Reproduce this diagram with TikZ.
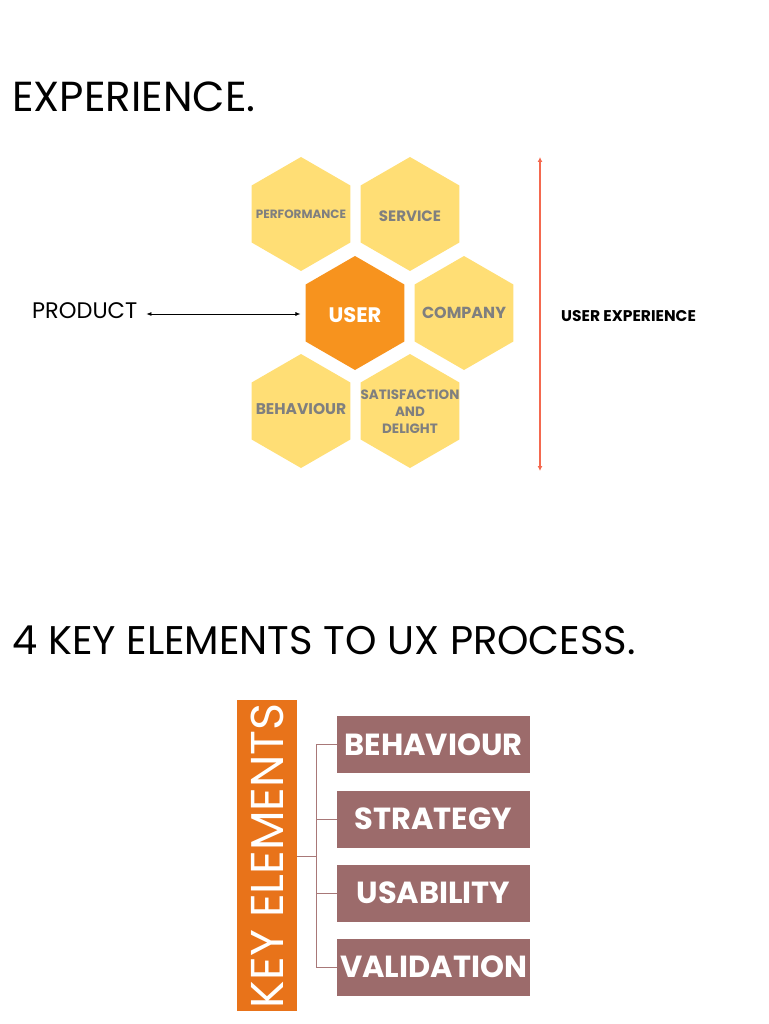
\documentclass[tikz,border=0pt]{standalone}
\usepackage{fontspec}
\setmainfont{Poppins}
\usetikzlibrary{shapes.geometric,arrows.meta}
\definecolor{hexy}{HTML}{FFDE75}
\definecolor{usero}{HTML}{F7931E}
\definecolor{lblg}{HTML}{7F7F7F}
\definecolor{redl}{HTML}{F4694F}
\definecolor{keyo}{HTML}{E8731A}
\definecolor{boxr}{HTML}{9C6B6B}
\definecolor{conn}{HTML}{A87878}
\tikzset{
  hex/.style={regular polygon, regular polygon sides=6, shape border rotate=30, minimum size=114pt, inner sep=0pt, fill=hexy},
  hexu/.style={hex, fill=usero},
  hexlbl/.style={font=\bfseries\fontsize{11}{13}\selectfont, text=lblg, align=center},
  title/.style={anchor=west, font=\fontsize{42}{46}\selectfont, inner sep=0pt},
  elbox/.style={fill=boxr, minimum width=193pt, minimum height=57pt, inner sep=0pt, text=white, font=\bfseries\fontsize{30.5}{33}\selectfont},
  cline/.style={draw=conn, line width=0.8pt},
}
\begin{document}
\begin{tikzpicture}[x=1pt,y=-1pt]
\useasboundingbox (0,0) rectangle (768,1024);
% titles
\node[title] (t1) at (12,97) {EXPERIENCE.};
\node[title, font=\fontsize{40}{44}\selectfont] (t2) at (12,640) {4 KEY ELEMENTS TO UX PROCESS.};
% hexagons
\node[hex] (perf) at (301,214) {};
\node[hex] (serv) at (410,214) {};
\node[hexu] (user) at (355,313) {};
\node[hex] (comp) at (464,313) {};
\node[hex] (beha) at (301,411) {};
\node[hex] (sati) at (410,411) {};
\node[hexlbl, font=\bfseries\fontsize{12}{14}\selectfont] at (perf) {PERFORMANCE};
\node[hexlbl, font=\bfseries\fontsize{15}{17}\selectfont] at ([yshift=-2]serv) {SERVICE};
\node[hexlbl, font=\bfseries\fontsize{21}{23}\selectfont, text=white] at ([yshift=-2]user) {USER};
\node[hexlbl, font=\bfseries\fontsize{16}{18}\selectfont] at (comp) {COMPANY};
\node[hexlbl, font=\bfseries\fontsize{15.5}{17}\selectfont] at ([yshift=2]beha) {BEHAVIOUR};
\node[hexlbl, font=\bfseries\fontsize{13.5}{17}\selectfont] at ([yshift=-1]sati) {SATISFACTION\\AND\\DELIGHT};
% product arrow
\node[anchor=west, inner sep=0pt, font=\fontsize{22.5}{25}\selectfont] (prod) at (32,311) {PRODUCT};
\draw[{Latex[length=5pt,width=4pt]}-{Latex[length=5pt,width=4pt]}, line width=0.7pt] ([xshift=9]prod.east|-0,314) -- ([xshift=-5]user.west|-0,314);
% user experience arrow
\coordinate (uxt) at (540,157);
\coordinate (uxb) at (540,471);
\draw[redl, line width=1.3pt, {Latex[length=5pt,width=5pt]}-{Latex[length=5pt,width=5pt]}] (uxt) -- (uxb);
\node[anchor=west, inner sep=0pt, font=\bfseries\fontsize{15.5}{17}\selectfont] (uxl) at (561,316) {USER EXPERIENCE};
% key elements
\node[fill=keyo, minimum width=60pt, minimum height=311pt, inner sep=0pt, anchor=north west] (key) at (237,700) {};
\node[rotate=90, text=white, font=\fontsize{46}{50}\selectfont, inner sep=0pt] at (key.center) {KEY ELEMENTS};
\node[elbox] (b1) at (433.5,744.5) {BEHAVIOUR};
\node[elbox] (b2) at (433.5,819) {STRATEGY};
\node[elbox] (b3) at (433.5,893) {USABILITY};
\node[elbox] (b4) at (433.5,967) {VALIDATION};
\coordinate (j) at (316,856);
\draw[cline] (key.east|-j) -- (j);
\draw[cline] (j|-b1) -- (j|-b4);
\foreach \b in {b1,b2,b3,b4} \draw[cline] (j|-\b) -- (\b.west);
\end{tikzpicture}
\end{document}
